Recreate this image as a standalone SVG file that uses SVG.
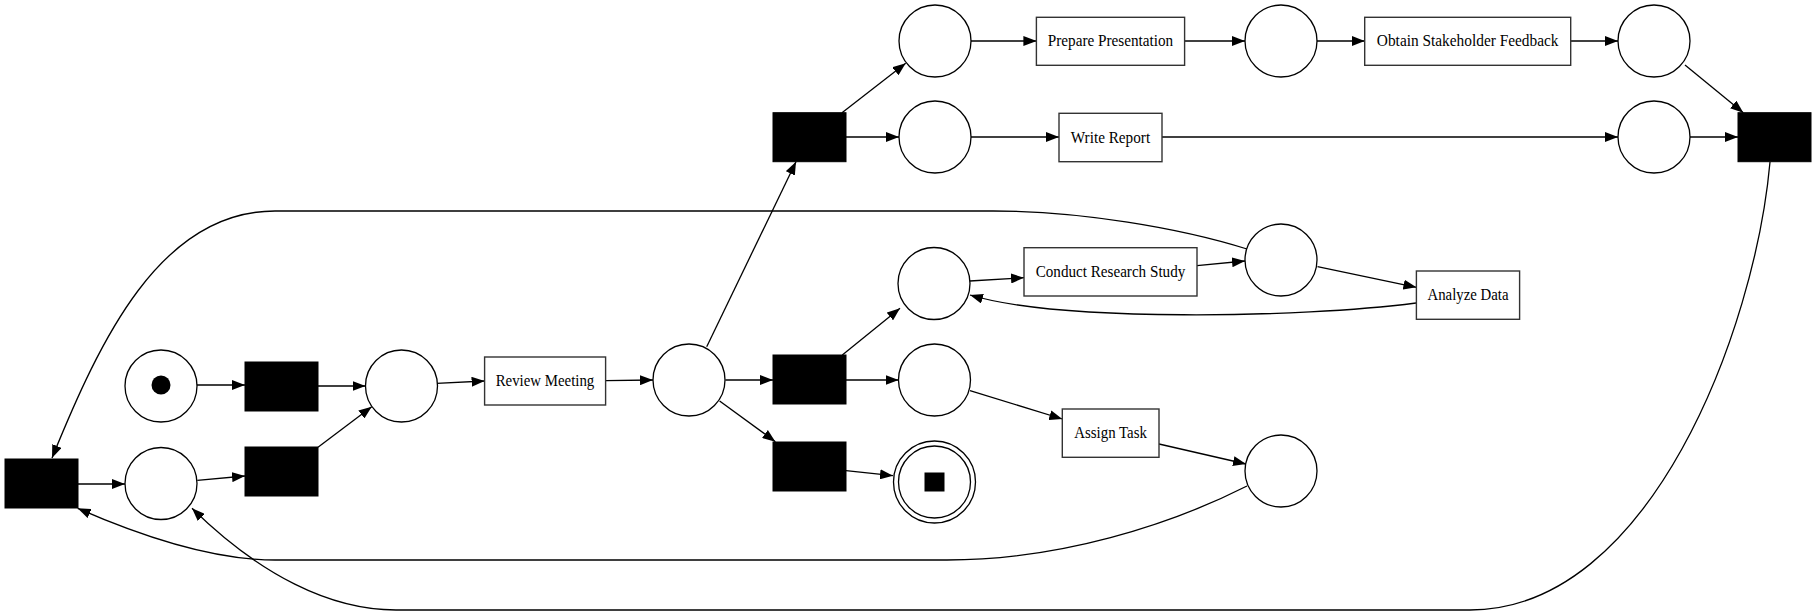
<svg xmlns="http://www.w3.org/2000/svg" width="1816" height="616" viewBox="0 0 1816 616">
  <style>
    .place { fill: #fff; stroke: #000; stroke-width: 1.3; }
    .trans { fill: #000; stroke: #000; stroke-width: 1; }
    .task { fill: #fff; stroke: #333; stroke-width: 1.4; }
    .lbl { font-family: "Liberation Serif", "Times New Roman", serif; font-size: 17px; fill: #000; text-anchor: middle; }
    .arc { fill: none; stroke: #000; stroke-width: 1.3; marker-end: url(#arrow); }
  </style>
  <defs>
    <marker id="arrow" viewBox="0 0 13 10" refX="13" refY="5" markerWidth="13" markerHeight="10" markerUnits="userSpaceOnUse" orient="auto">
      <path d="M0,0 L13,5 L0,10 z" fill="#000"/>
    </marker>
  </defs>
  <rect width="1816" height="616" fill="#fff"/>

  <!-- arcs -->
  <g id="arcs">
    <path class="arc" d="M197,385 L245,385"/>
    <path class="arc" d="M318,386 L365.5,386"/>
    <path class="arc" d="M78,484 L125,484"/>
    <path class="arc" d="M197.3,480.3 L245,476"/>
    <path class="arc" d="M318,447.3 L371.7,406.7"/>
    <path class="arc" d="M436.6,383.4 L484.6,381"/>
    <path class="arc" d="M605.7,380.7 L653,380"/>
    <path class="arc" d="M725.4,380 L773,380"/>
    <path class="arc" d="M719.6,401 L775.4,441.7"/>
    <path class="arc" d="M706.7,346.7 L796,161.7"/>
    <path class="arc" d="M846,380 L898.6,380"/>
    <path class="arc" d="M842.3,355 L900,308.3"/>
    <path class="arc" d="M846,470.7 L893,475.7"/>
    <path class="arc" d="M970,390.7 L1062.3,419"/>
    <path class="arc" d="M1159,444 L1246,464"/>
    <path class="arc" d="M842,112.7 L905.7,63.3"/>
    <path class="arc" d="M846,137 L899,137"/>
    <path class="arc" d="M971,41 L1036.4,41"/>
    <path class="arc" d="M1184.6,41 L1245,41"/>
    <path class="arc" d="M1316.7,41 L1364.7,41"/>
    <path class="arc" d="M1570.7,41 L1618,41"/>
    <path class="arc" d="M1685,65 L1743.3,112.7"/>
    <path class="arc" d="M1690,137 L1738,137"/>
    <path class="arc" d="M971,137 L1059,137"/>
    <path class="arc" d="M1162,137 L1618,137"/>
    <path class="arc" d="M969.7,281 L1024,277.7"/>
    <path class="arc" d="M1197,265.7 L1245,261"/>
    <path class="arc" d="M1317.5,266.7 L1416.4,287.3"/>
    <path class="arc" d="M1416,303 C1300,318 1060,322 970,295"/>
    <path class="arc" d="M1247,249 C1180,228 1080,211 993,211 L275,211 C160,211 100,340 52,458"/>
    <path class="arc" d="M1247,486 C1170,525 1060,560 947,560 L275,560 C220,560 150,540 77.7,508.3"/>
    <path class="arc" d="M1770,162 C1755,330 1650,610 1470,610 L396,610 C330,610 260,575 192,508.3"/>
  </g>

  <!-- places -->
  <g id="p_start"><circle class="place" cx="161" cy="386" r="36"/><circle cx="161" cy="385" r="9.5" fill="#000"/></g>
  <g id="p_a"><circle class="place" cx="401.5" cy="386" r="36"/></g>
  <g id="p_b"><circle class="place" cx="161" cy="483.5" r="36"/></g>
  <g id="p_c"><circle class="place" cx="689" cy="380" r="36"/></g>
  <g id="p_d"><circle class="place" cx="934.5" cy="380" r="36"/></g>
  <g id="p_final">
    <circle class="place" cx="934.5" cy="482" r="41"/>
    <circle class="place" cx="934.5" cy="482" r="36"/>
    <rect x="924.5" y="472.5" width="20" height="19" fill="#000"/>
  </g>
  <g id="p_pp1"><circle class="place" cx="935" cy="41" r="36"/></g>
  <g id="p_pw1"><circle class="place" cx="935" cy="137" r="36"/></g>
  <g id="p_pp2"><circle class="place" cx="1281" cy="41" r="36"/></g>
  <g id="p_pp3"><circle class="place" cx="1654" cy="41" r="36"/></g>
  <g id="p_pw2"><circle class="place" cx="1654" cy="137" r="36"/></g>
  <g id="p_pr1"><circle class="place" cx="934" cy="283.5" r="36"/></g>
  <g id="p_pr2"><circle class="place" cx="1281" cy="260" r="36"/></g>
  <g id="p_pa2"><circle class="place" cx="1281" cy="471" r="36"/></g>

  <!-- silent transitions -->
  <g id="t_init"><rect class="trans" x="245" y="362" width="73" height="49"/></g>
  <g id="t_loop2"><rect class="trans" x="245" y="447" width="73" height="49"/></g>
  <g id="t_left"><rect class="trans" x="5" y="459" width="73" height="49"/></g>
  <g id="t_mid"><rect class="trans" x="773" y="355" width="73" height="49"/></g>
  <g id="t_end"><rect class="trans" x="773" y="442" width="73" height="49"/></g>
  <g id="t_split"><rect class="trans" x="773" y="112.7" width="73" height="49"/></g>
  <g id="t_join"><rect class="trans" x="1738" y="112.7" width="73" height="49"/></g>

  <!-- labelled transitions -->
  <g id="review_meeting"><rect class="task" x="484.6" y="357" width="121" height="48"/><text class="lbl" x="545" y="386" textLength="98.6" lengthAdjust="spacingAndGlyphs">Review Meeting</text></g>
  <g id="prepare_presentation"><rect class="task" x="1036.4" y="17.3" width="148.2" height="48"/><text class="lbl" x="1110.5" y="46.3" textLength="125.4" lengthAdjust="spacingAndGlyphs">Prepare Presentation</text></g>
  <g id="write_report"><rect class="task" x="1059" y="113.3" width="103" height="48.4"/><text class="lbl" x="1110.5" y="142.5" textLength="79.3" lengthAdjust="spacingAndGlyphs">Write Report</text></g>
  <g id="obtain_feedback"><rect class="task" x="1364.7" y="17.3" width="206" height="48"/><text class="lbl" x="1467.7" y="46.3" textLength="181.7" lengthAdjust="spacingAndGlyphs">Obtain Stakeholder Feedback</text></g>
  <g id="conduct_research"><rect class="task" x="1024" y="247.7" width="173" height="48.3"/><text class="lbl" x="1110.5" y="276.8" textLength="149.6" lengthAdjust="spacingAndGlyphs">Conduct Research Study</text></g>
  <g id="analyze_data"><rect class="task" x="1416.4" y="271" width="103.2" height="48.3"/><text class="lbl" x="1468" y="300.2" textLength="81.1" lengthAdjust="spacingAndGlyphs">Analyze Data</text></g>
  <g id="assign_task"><rect class="task" x="1062.3" y="409" width="96.7" height="48.3"/><text class="lbl" x="1110.6" y="437.5" textLength="72.7" lengthAdjust="spacingAndGlyphs">Assign Task</text></g>
</svg>
